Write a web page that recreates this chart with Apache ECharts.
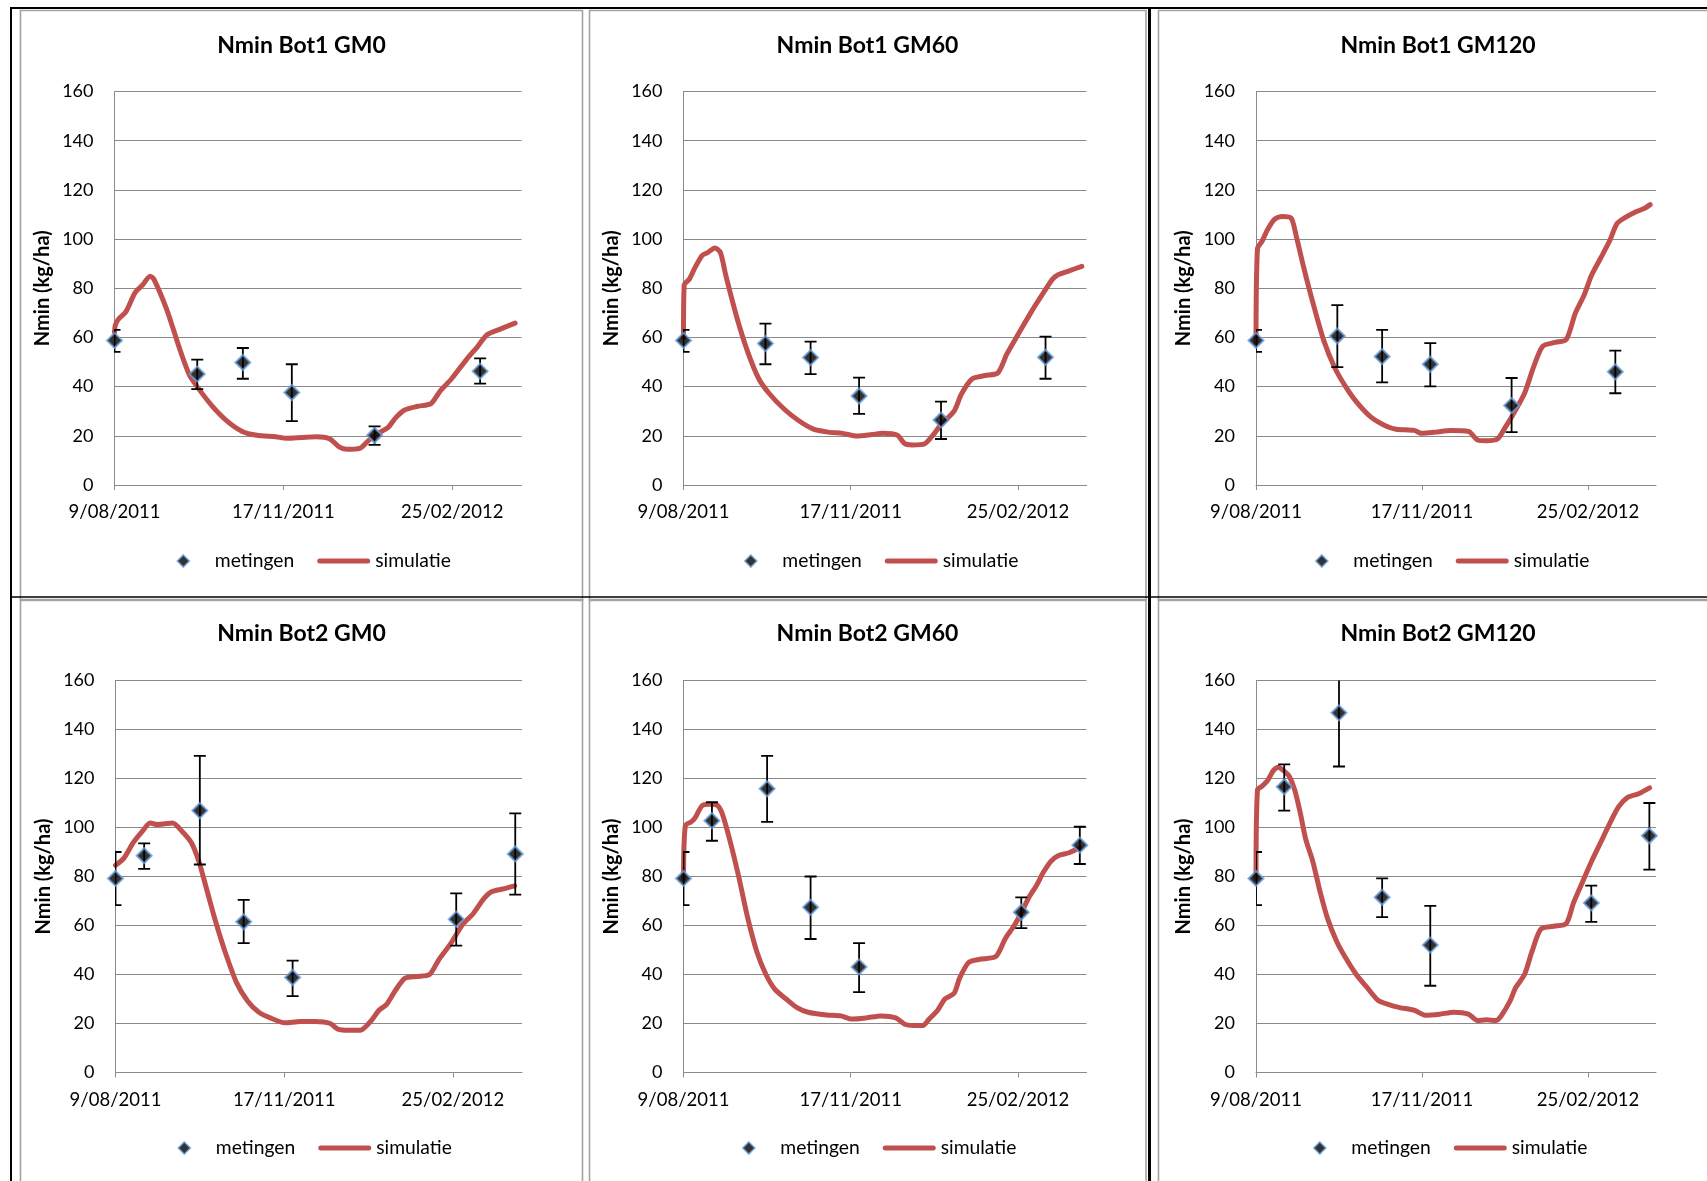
<!DOCTYPE html>
<html><head><meta charset="utf-8">
<script src="https://cdn.jsdelivr.net/npm/echarts@6/dist/echarts.min.js"></script>
<style>html,body{margin:0;padding:0;background:#fff}#c{width:1707px;height:1181px}</style>
</head><body><div id="c"></div>
<script>
// ---------- DATA ----------
const startDate = Date.UTC(2011, 7, 9);          // 9/08/2011 = day 0
const xMaxDay = 241;
const xTickDays = [0, 100, 200];
const yMin = 0, yMax = 160, yStep = 20;
const panelTitles = ['Nmin Bot1 GM0', 'Nmin Bot1 GM60', 'Nmin Bot1 GM120',
                     'Nmin Bot2 GM0', 'Nmin Bot2 GM60', 'Nmin Bot2 GM120'];
const yAxisName = 'Nmin (kg/ha)';
const legendNames = ['metingen', 'simulatie'];

// measurement days (days after 9/08/2011)
const row1MeasDays = [0, 49, 76, 105, 154, 216.5];
const row2MeasDays = [0, 17, 50, 76, 105, 202, 237];

// metingen: value, lower and upper error bar end
const bot1gm0Meas  = [58.8, 45.1, 49.8, 37.6, 20.2, 46.3];
const bot1gm0Low   = [54.1, 39.0, 43.2, 26.0, 16.3, 41.2];
const bot1gm0High  = [63.1, 51.0, 55.7, 49.1, 23.8, 51.5];
const bot1gm60Meas = [58.8, 57.5, 51.8, 36.2, 26.4, 51.9];
const bot1gm60Low  = [54.1, 49.1, 45.1, 28.9, 18.7, 43.2];
const bot1gm60High = [63.1, 65.6, 58.3, 43.7, 33.9, 60.3];
const bot1gm120Meas = [58.8, 60.6, 52.2, 49.1, 32.3, 46.0];
const bot1gm120Low  = [54.1, 47.9, 41.7, 40.1, 21.5, 37.3];
const bot1gm120High = [63.1, 73.1, 63.1, 57.7, 43.5, 54.6];
const bot2gm0Meas  = [79.2, 88.5, 106.9, 61.5, 38.8, 62.6, 89.2];
const bot2gm0Low   = [68.3, 83.1, 84.9, 52.8, 31.2, 51.8, 72.6];
const bot2gm0High  = [90.0, 93.5, 129.2, 70.5, 45.7, 73.1, 105.8];
const bot2gm60Meas = [79.2, 102.8, 115.8, 67.4, 43.1, 65.4, 92.8];
const bot2gm60Low  = [68.3, 94.6, 102.3, 54.5, 32.8, 58.9, 85.1];
const bot2gm60High = [90.0, 110.3, 129.2, 80.0, 52.8, 71.5, 100.3];
const bot2gm120Meas = [79.2, 116.6, 146.8, 71.5, 52.0, 69.2, 96.6];
const bot2gm120Low  = [68.3, 106.9, 124.9, 63.4, 35.4, 61.5, 82.8];
const bot2gm120High = [90.0, 125.8, 168.0, 79.2, 68.0, 76.3, 110.0];

// simulatie curves: days and values
const bot1gm0SimDays = [0, 0.5, 2.2, 6.7, 12.2, 16.6, 21.1, 23.3, 31, 38.8, 44.3, 48.8, 57.6, 66.5, 75.4, 84.3, 95.3, 102, 110.9, 119.7, 127.5, 133, 137.5, 145.2, 149.7, 155.2, 161.9, 166.3, 171.8, 179.6, 187.4, 192.9, 199.6, 208.4, 215.1, 220.6, 228.4, 237.2];
const bot1gm0Sim     = [62, 65, 67.3, 70.4, 78.2, 81.3, 84.9, 83.7, 71.2, 54.9, 44.8, 40.1, 32.3, 26.1, 21.9, 20.2, 19.6, 19.0, 19.3, 19.6, 18.7, 15.5, 14.5, 14.9, 17.6, 20.7, 23.3, 27.2, 30.5, 32.0, 33.1, 38.3, 43.2, 51.0, 56.4, 61.1, 63.4, 65.8];
const bot1gm60SimDays = [0, 0.4, 3.5, 6.8, 11.1, 14.4, 18.8, 22.1, 25.3, 31.9, 38.4, 45, 51.5, 60.3, 69, 77.7, 86.5, 95.2, 103.9, 112.7, 119.2, 127.9, 132.3, 136.7, 144.3, 148.7, 154.1, 161.8, 166.2, 172.7, 180.3, 188, 193.4, 200, 208.7, 215.3, 220.7, 224, 230.6, 238.2];
const bot1gm60Sim     = [60, 81.3, 83.7, 88.3, 93.3, 94.5, 96.4, 94.5, 85.2, 68.1, 54.1, 43.2, 37.0, 30.8, 26.1, 22.7, 21.5, 21.0, 19.9, 20.5, 21.0, 20.2, 16.8, 16.3, 16.8, 19.9, 24.6, 30.0, 37.0, 43.2, 44.5, 45.6, 53.3, 61.1, 71.2, 78.2, 83.7, 85.5, 87.1, 88.9];
const bot1gm120SimDays = [0, 0.9, 3.7, 7, 11.3, 15.7, 21.2, 24.4, 28.8, 34.2, 40.8, 47.3, 53.9, 60.4, 69.1, 77.9, 84.4, 95.3, 99.6, 108.4, 117.1, 128, 133.5, 138.9, 145.5, 149.8, 155.3, 161.8, 167.2, 172.7, 180.3, 186.9, 192.3, 197.8, 202.1, 207.6, 213, 217.4, 221.8, 228.3, 233.8, 237.5];
const bot1gm120Sim     = [58, 96.1, 99.2, 103.9, 108.1, 109.2, 108.5, 100.8, 88.3, 74.3, 58.8, 47.9, 40.1, 33.9, 27.7, 24.1, 22.7, 22.2, 21.0, 21.5, 22.2, 21.8, 18.3, 18.0, 18.7, 23.0, 29.2, 37.3, 47.9, 56.4, 58.0, 59.1, 69.7, 77.4, 85.2, 92.2, 99.2, 106.2, 108.5, 110.9, 112.4, 114.0];
const bot2gm0SimDays = [0, 4.9, 10.5, 16, 20.5, 24.9, 29.4, 33.8, 39.4, 45, 49.4, 53.8, 59.4, 65, 71.6, 78.3, 85, 91.7, 100.6, 109.5, 118.4, 127.3, 131.8, 138.4, 145.1, 151.7, 156.2, 160.6, 166.2, 171.7, 178.4, 186.2, 191.8, 198.4, 206.2, 211.8, 218.5, 222.9, 229.6, 236.7];
const bot2gm0Sim     = [84.6, 87.4, 93.8, 98.5, 101.8, 101.2, 101.5, 101.8, 98.5, 93.8, 86.2, 75.4, 61.5, 49.2, 36.9, 29.2, 24.6, 22.3, 20.3, 20.8, 20.8, 20.0, 17.7, 17.2, 17.2, 21.2, 25.4, 27.7, 33.8, 38.5, 39.2, 40.0, 46.2, 52.3, 60.8, 64.6, 71.1, 73.8, 74.9, 76.2];
const bot2gm60SimDays = [0, 1.1, 4.6, 6.8, 11.1, 15.5, 19.9, 23.1, 27.5, 33, 38.4, 43.9, 49.3, 54.8, 61.4, 67.9, 74.5, 85.4, 94.1, 100.7, 109.4, 118.1, 126.9, 132.3, 137.8, 143.2, 146.5, 152, 156.3, 161.8, 165.1, 170.5, 177.1, 186.9, 192.4, 197.8, 202.2, 206.6, 211, 215.3, 219.7, 224, 230.6, 237.1];
const bot2gm60Sim     = [79, 100.8, 102.3, 103.8, 108.9, 109.5, 109.2, 105.8, 95.4, 80.0, 63.1, 49.2, 40.0, 33.8, 30.0, 26.5, 24.6, 23.5, 23.1, 21.8, 22.3, 23.1, 22.3, 19.7, 19.2, 19.2, 21.5, 25.4, 30.0, 32.3, 38.5, 44.9, 46.2, 47.4, 54.6, 60.0, 65.4, 71.5, 76.2, 81.8, 86.2, 88.5, 89.7, 91.8];
const bot2gm120SimDays = [0, 0.9, 3.7, 7, 10.3, 13.5, 16.8, 20.1, 23.3, 26.6, 29.9, 34.2, 38.6, 43, 48.4, 53.9, 60.4, 67, 73.5, 80, 86.6, 95.3, 101.9, 110.6, 119.3, 128, 133.5, 138.9, 144.4, 147.7, 153.1, 156.4, 161.8, 166.2, 171.6, 179.3, 186.9, 191.3, 196.7, 202.2, 207.6, 213, 218.5, 223.9, 230.5, 237.1];
const bot2gm120Sim     = [79, 115.4, 116.9, 119.2, 123.1, 124.6, 123.1, 120.8, 115.4, 106.2, 95.4, 86.2, 73.8, 63.1, 53.8, 46.9, 40.0, 34.6, 29.5, 27.7, 26.5, 25.4, 23.4, 23.8, 24.6, 23.8, 21.2, 21.5, 21.2, 23.1, 29.2, 34.6, 40.0, 49.2, 58.5, 59.7, 60.8, 69.2, 77.7, 86.2, 93.8, 101.5, 108.5, 112.3, 113.8, 116.2];

// ---------- PANEL ASSEMBLY ----------
const panels = [
  {days: row1MeasDays, meas: bot1gm0Meas, low: bot1gm0Low, high: bot1gm0High, simD: bot1gm0SimDays, sim: bot1gm0Sim},
  {days: row1MeasDays, meas: bot1gm60Meas, low: bot1gm60Low, high: bot1gm60High, simD: bot1gm60SimDays, sim: bot1gm60Sim},
  {days: row1MeasDays, meas: bot1gm120Meas, low: bot1gm120Low, high: bot1gm120High, simD: bot1gm120SimDays, sim: bot1gm120Sim},
  {days: row2MeasDays, meas: bot2gm0Meas, low: bot2gm0Low, high: bot2gm0High, simD: bot2gm0SimDays, sim: bot2gm0Sim},
  {days: row2MeasDays, meas: bot2gm60Meas, low: bot2gm60Low, high: bot2gm60High, simD: bot2gm60SimDays, sim: bot2gm60Sim},
  {days: row2MeasDays, meas: bot2gm120Meas, low: bot2gm120Low, high: bot2gm120High, simD: bot2gm120SimDays, sim: bot2gm120Sim}
];

// layout (pixels)
const layout = [
  {l: 114.5, t: 91.5, w: 407, h: 393.5, tx: 301.5, ty: 45,  lg: 176.5, ly: 561},
  {l: 683.5, t: 91.5, w: 403, h: 393.5, tx: 867.5, ty: 45,  lg: 744, ly: 561},
  {l: 1256, t: 91.5, w: 400, h: 393.5, tx: 1438, ty: 45, lg: 1315, ly: 561},
  {l: 115.5, t: 680.5, w: 406.5, h: 392, tx: 301.5, ty: 633, lg: 177.5, ly: 1148},
  {l: 683.5, t: 680.5, w: 403, h: 392, tx: 867.5, ty: 633, lg: 742, ly: 1148},
  {l: 1256, t: 680.5, w: 400, h: 392, tx: 1438, ty: 633, lg: 1313, ly: 1148}
];

const FONT = 'Lato';
const GRID_COLOR = '#8a8a8a';
const RED = '#C0504D';
const MARK_BORDER = '#6a9fdc';

function fmtDay(d) {
  const dt = new Date(startDate + Math.round(d) * 86400000);
  const mm = String(dt.getUTCMonth() + 1).padStart(2, '0');
  return dt.getUTCDate() + '/' + mm + '/' + dt.getUTCFullYear();
}

const option = {
  animation: false,
  backgroundColor: '#fff',
  title: [], grid: [], xAxis: [], yAxis: [], legend: [], series: [],
  graphic: []
};

panels.forEach((p, i) => {
  const L = layout[i];
  option.title.push({
    text: panelTitles[i], left: L.tx, top: L.ty - 11, textAlign: 'center', padding: 0,
    textStyle: {fontFamily: FONT, fontWeight: 'bold', fontSize: 23, color: '#000'}
  });
  option.grid.push({left: L.l, top: L.t, width: L.w, height: L.h});
  option.xAxis.push({
    type: 'value', gridIndex: i, min: 0, max: xMaxDay,
    axisLine: {show: true, lineStyle: {color: GRID_COLOR, width: 1}},
    axisTick: {show: true, customValues: xTickDays, length: 5, lineStyle: {color: GRID_COLOR}},
    axisLabel: {customValues: xTickDays, formatter: v => fmtDay(v), margin: 18,
                fontFamily: FONT, fontSize: 18.5, color: '#000'},
    splitLine: {show: false}
  });
  option.yAxis.push({
    type: 'value', gridIndex: i, min: yMin, max: yMax, interval: yStep,
    name: yAxisName, nameLocation: 'middle', nameGap: 62, nameRotate: 90,
    nameTextStyle: {fontFamily: FONT, fontWeight: 'bold', fontSize: 20, color: '#000'},
    axisLine: {show: true, lineStyle: {color: GRID_COLOR, width: 1}},
    axisTick: {show: false},
    axisLabel: {margin: 21, fontFamily: FONT, fontSize: 18, color: '#000'},
    splitLine: {show: true, lineStyle: {color: GRID_COLOR, width: 1}}
  });
  option.legend.push({
    left: L.lg, top: L.ly - 9.5, padding: 0, itemWidth: 53, itemHeight: 12, itemGap: 23,
    selectedMode: false,
    textStyle: {fontFamily: FONT, fontSize: 19.3, color: '#000'},
    data: [
      {name: legendNames[0], icon: 'path://M5,0 L10,5 L5,10 L0,5 Z',
       itemStyle: {color: '#000', borderColor: MARK_BORDER, borderWidth: 1.6}},
      {name: legendNames[1], icon: 'path://M2.5,0 L50.5,0 A2.5,2.5 0 0 1 50.5,5 L2.5,5 A2.5,2.5 0 0 1 2.5,0 Z',
       itemStyle: {color: RED, borderWidth: 0}}
    ]
  });
  option.series.push({
    name: legendNames[1], type: 'line', xAxisIndex: i, yAxisIndex: i,
    data: p.simD.map((d, j) => [d, p.sim[j]]),
    showSymbol: false, symbol: 'none', smooth: 0.25,
    lineStyle: {color: RED, width: 5, cap: 'round', join: 'round'},
    itemStyle: {color: RED}, z: 2
  });
  option.series.push({
    type: 'custom', xAxisIndex: i, yAxisIndex: i, clip: true, z: 3,
    data: p.days.map((d, j) => [d, p.low[j], p.high[j]]),
    encode: {x: 0, y: [1, 2]},
    renderItem: (params, api) => {
      const x = api.value(0);
      const a = api.coord([x, api.value(1)]);
      const b = api.coord([x, api.value(2)]);
      const hw = 6, st = {stroke: '#000', lineWidth: 1.8};
      return {type: 'group', children: [
        {type: 'line', shape: {x1: a[0], y1: a[1], x2: b[0], y2: b[1]}, style: st},
        {type: 'line', shape: {x1: a[0] - hw, y1: a[1], x2: a[0] + hw, y2: a[1]}, style: st},
        {type: 'line', shape: {x1: b[0] - hw, y1: b[1], x2: b[0] + hw, y2: b[1]}, style: st}
      ]};
    }
  });
  option.series.push({
    name: legendNames[0], type: 'scatter', xAxisIndex: i, yAxisIndex: i,
    data: p.days.map((d, j) => [d, p.meas[j]]),
    symbol: 'diamond', symbolSize: 15,
    itemStyle: {color: '#000', borderColor: MARK_BORDER, borderWidth: 2}, z: 4
  });
});

// frames: black table lines and grey chart borders
const black = (x1, y1, x2, y2, w) => ({type: 'line', shape: {x1, y1, x2, y2}, style: {stroke: '#000', lineWidth: w}, z: 100});
const greyRect = (x, y, w, h) => ({type: 'rect', shape: {x, y, width: w, height: h}, style: {fill: null, stroke: '#a3a3a3', lineWidth: 1.6}, z: 99});
option.graphic = [
  greyRect(20.5, 10.5, 562, 590), greyRect(589.5, 10.5, 556.5, 590), greyRect(1158.5, 10.5, 600, 590),
  greyRect(20.5, 599.5, 562, 620), greyRect(589.5, 599.5, 556.5, 620), greyRect(1158.5, 599.5, 600, 620),
  black(10, 8, 1707, 8, 2), black(11, 7, 11, 1181, 2), black(10, 597, 1707, 597, 1.6),
  black(1149.5, 7, 1149.5, 1181, 3)
];

const chart = echarts.init(document.getElementById('c'), null, {renderer: 'canvas'});
chart.setOption(option);
</script>
</body></html>
